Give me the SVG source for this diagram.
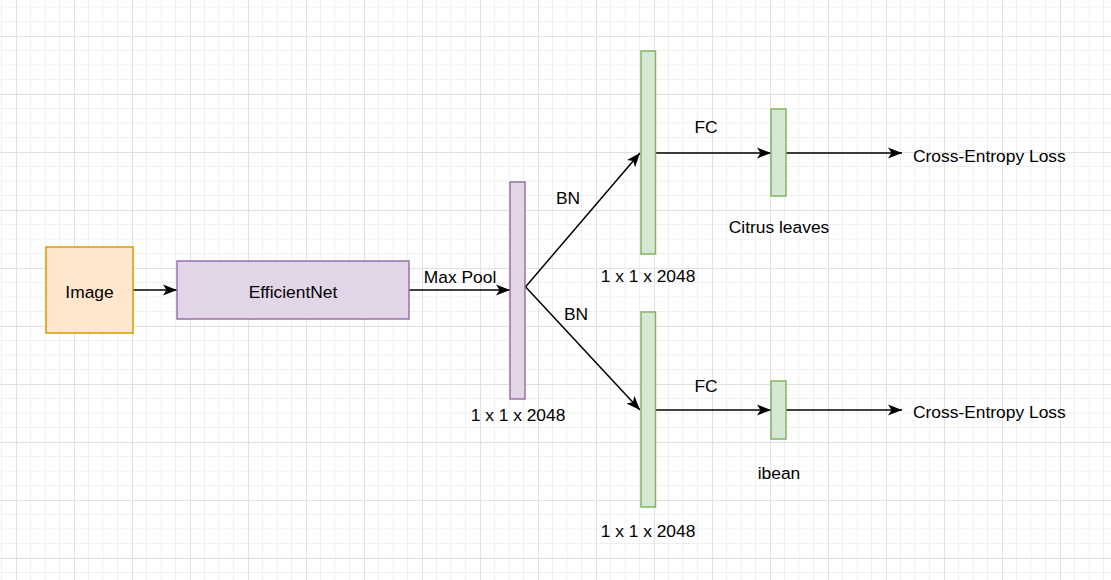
<svg xmlns="http://www.w3.org/2000/svg" width="1111" height="580" viewBox="0 0 1111 580">
<defs>
<pattern id="grid" patternUnits="userSpaceOnUse" x="16" y="36" width="58" height="58">
<path d="M14.5,0V58M29,0V58M43.5,0V58M0,14.5H58M0,29H58M0,43.5H58" stroke="#f0f0f0" stroke-width="1" fill="none"/>
<path d="M0.5,0V58M0,0.5H58" stroke="#e0e0e0" stroke-width="1" fill="none"/>
</pattern>
<marker id="arr" markerUnits="userSpaceOnUse" markerWidth="16" markerHeight="12" refX="14" refY="5.5" orient="auto" viewBox="0 0 16 11">
<path d="M0,0 L14,5.5 L0,11 L3.5,5.5 Z" fill="#000"/>
</marker>
</defs>
<style>
text{font-family:"Liberation Sans",Arial,sans-serif;font-size:17.4px;fill:#000}
.c{text-anchor:middle}
.edge{stroke:#000;stroke-width:1.5;fill:none}
.purple{fill:#e1d5e7;stroke:#9673a6;stroke-width:1.5}
.green{fill:#d5e8d4;stroke:#82b366;stroke-width:1.5}
.orange{fill:#ffe6cc;stroke:#d79b00;stroke-width:1.5}
</style>
<rect width="1111" height="580" fill="#fff"/>
<rect width="1111" height="580" fill="url(#grid)"/>
<g id="connectors">
<line class="edge" x1="133" y1="290" x2="177" y2="290" marker-end="url(#arr)"/>
<line class="edge" x1="409" y1="290" x2="510" y2="290" marker-end="url(#arr)"/>
<line class="edge" x1="522" y1="291" x2="640" y2="153" marker-end="url(#arr)"/>
<line class="edge" x1="522" y1="283" x2="640" y2="410" marker-end="url(#arr)"/>
<line class="edge" x1="655" y1="153" x2="771" y2="153" marker-end="url(#arr)"/>
<line class="edge" x1="786" y1="153" x2="902" y2="153" marker-end="url(#arr)"/>
<line class="edge" x1="655" y1="410" x2="771" y2="410" marker-end="url(#arr)"/>
<line class="edge" x1="786" y1="410" x2="902" y2="410" marker-end="url(#arr)"/>
<text class="c" x="460" y="283">Max Pool</text>
<text class="c" x="568" y="204">BN</text>
<text class="c" x="576" y="320">BN</text>
<text class="c" x="706" y="133">FC</text>
<text class="c" x="706" y="392">FC</text>
</g>
<g id="image"><rect class="orange" x="46" y="247" width="87" height="86"/><text class="c" x="89.5" y="298">Image</text></g>
<g id="efficientnet"><rect class="purple" x="177" y="261" width="232" height="58"/><text class="c" x="293" y="298">EfficientNet</text></g>
<g id="pool"><rect class="purple" x="510" y="182" width="15" height="217"/><text class="c" x="518" y="421">1 x 1 x 2048</text></g>
<g id="bn-top"><rect class="green" x="641" y="51" width="14.5" height="203"/><text class="c" x="648" y="282">1 x 1 x 2048</text></g>
<g id="bn-bottom"><rect class="green" x="641" y="312" width="14.5" height="195"/><text class="c" x="648" y="537">1 x 1 x 2048</text></g>
<g id="fc-top"><rect class="green" x="771" y="109" width="15" height="87"/><text class="c" x="779" y="233">Citrus leaves</text></g>
<g id="fc-bottom"><rect class="green" x="771" y="381" width="15" height="58"/><text class="c" x="779" y="479">ibean</text></g>
<g id="loss-top"><text x="913" y="162">Cross-Entropy Loss</text></g>
<g id="loss-bottom"><text x="913" y="418">Cross-Entropy Loss</text></g>
</svg>
